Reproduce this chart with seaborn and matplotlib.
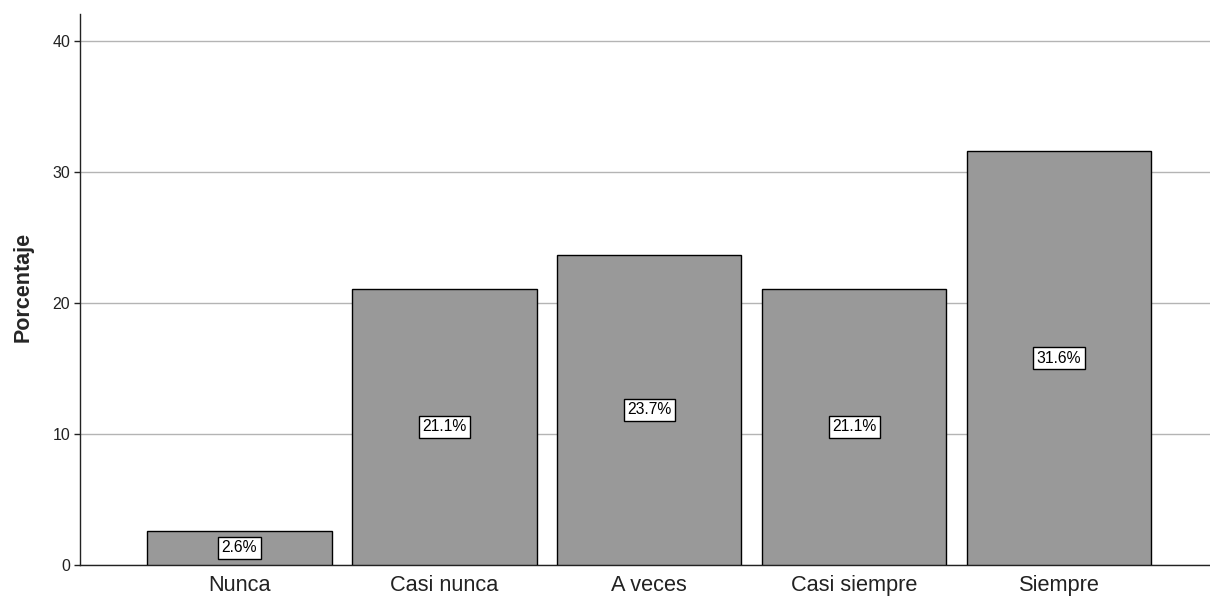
import matplotlib
matplotlib.use("Agg")
import matplotlib.pyplot as plt
import seaborn as sns
import pandas as pd

categories = ["Nunca", "Casi nunca", "A veces", "Casi siempre", "Siempre"]
percentages = [2.6, 21.1, 23.7, 21.1, 31.6]
y_ticks = [0, 10, 20, 30, 40]

df = pd.DataFrame({"categoria": categories, "porcentaje": percentages})

sns.set_style("white")
plt.rcParams["font.family"] = ["Liberation Sans", "DejaVu Sans"]

fig = plt.figure(figsize=(12.1, 5.98), dpi=100)
ax = fig.add_axes([80 / 1210, 1 - 565 / 598, 1 - 80 / 1210, (565 - 14) / 598])

sns.barplot(data=df, x="categoria", y="porcentaje", order=categories,
            color="#999999", saturation=1, width=0.9,
            edgecolor="black", linewidth=1.0, ax=ax, zorder=3)

for patch, val in zip(ax.patches, percentages):
    cx = patch.get_x() + patch.get_width() / 2
    ax.text(cx, val / 2, f"{val:.1f}%", ha="center", va="center",
            fontsize=11.3, color="black", zorder=5,
            bbox=dict(boxstyle="square,pad=0.22", facecolor="white",
                      edgecolor="black", linewidth=1))

ax.set_ylim(0, 42.1)
ax.set_xlim(-0.778, 4.737)
ax.set_yticks(y_ticks)
ax.set_yticklabels([str(t) for t in y_ticks], fontsize=11.5, color="#222222")
ax.tick_params(axis="x", labelsize=15.7, colors="#222222", length=0, pad=7)
ax.tick_params(axis="y", length=4, width=1, color="#222222", pad=3, left=True)
ax.yaxis.grid(True, color="#b4b4b4", linewidth=1, zorder=0)
ax.set_axisbelow(True)
ax.set_xlabel("")
ax.set_ylabel("Porcentaje", fontsize=15.5, fontweight="bold")
ax.yaxis.set_label_coords(-46 / 1130, (565 - 287) / 551)

for side in ["top", "right"]:
    ax.spines[side].set_visible(False)
for side in ["left", "bottom"]:
    ax.spines[side].set_color("#222222")
    ax.spines[side].set_linewidth(1)

fig.savefig("out.png", dpi=100, facecolor="white")
